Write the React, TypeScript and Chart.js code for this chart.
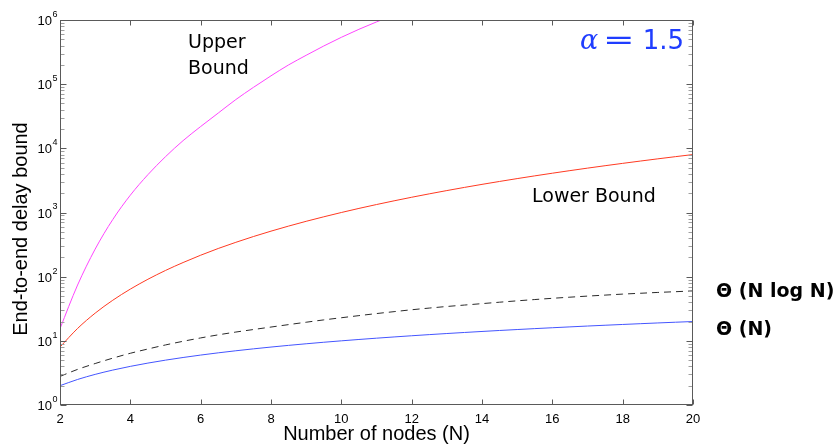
import React, { useEffect, useRef } from 'react';
import { Chart, registerables } from 'chart.js';

Chart.register(...registerables);

// ---- data ----
const nodes = [2, 2.5, 3, 3.5, 4, 4.5, 5, 5.5, 6, 6.5, 7, 7.5, 8, 8.5, 9, 9.5, 10, 10.5, 11, 11.5, 12, 12.5, 13, 13.5, 14, 14.5, 15, 15.5, 16, 16.5, 17, 17.5, 18, 18.5, 19, 19.5, 20];
const thetaN = [2, 2.5, 3, 3.5, 4, 4.5, 5, 5.5, 6, 6.5, 7, 7.5, 8, 8.5, 9, 9.5, 10, 10.5, 11, 11.5, 12, 12.5, 13, 13.5, 14, 14.5, 15, 15.5, 16, 16.5, 17, 17.5, 18, 18.5, 19, 19.5, 20];
const thetaNlogN = [2.79, 3.59, 4.43, 5.37, 6.4, 7.46, 8.63, 9.84, 11.1, 12.4, 13.7, 15.0, 16.4, 17.9, 19.5, 21.2, 22.9, 24.7, 26.6, 28.5, 30.5, 32.4, 34.3, 36.1, 38.0, 40.0, 42.0, 44.0, 46.0, 47.9, 49.8, 51.6, 53.5, 55.1, 56.8, 58.3, 60.0];
const lowerBound = [8, 15.6, 27, 42.9, 64, 91.1, 125, 166, 216, 275, 343, 422, 512, 614, 729, 857, 1000, 1158, 1331, 1521, 1728, 1953, 2197, 2460, 2744, 3048, 3375, 3724, 4096, 4492, 4913, 5359, 5832, 6331, 6859, 7415, 8000];
const upperNodes = [2, 2.5, 3, 3.5, 4, 4.5, 5, 5.5, 6, 6.5, 7, 7.5, 8, 8.5, 9, 9.5, 10, 10.5, 11, 11.5, 12];
const upperBound = [15.5, 74.1, 269, 776, 1862, 3890, 7413, 13183, 21878, 35481, 57544, 89125, 134896, 199526, 281838, 393550, 537032, 716143, 933254, 1202264, 1513561];
const xTickValues = [2, 4, 6, 8, 10, 12, 14, 16, 18, 20];
const yDecades = [0, 1, 2, 3, 4, 5, 6];

const xTitle = 'Number of nodes (N)';
const yTitle = 'End-to-end delay bound';
const upperLabel = ['Upper', 'Bound'];
const lowerLabel = 'Lower Bound';
const nlognLabel = 'Θ (N log N)';
const nLabel = 'Θ (N)';

const pts = (xs: number[], ys: number[]) => xs.map((x, i) => ({ x, y: ys[i] }));

const framePlugin = {
  id: 'frame',
  afterDatasetsDraw(chart: any) {
    const { ctx, chartArea, scales } = chart;
    const { left, right, top, bottom } = chartArea;
    const x = scales.x;
    const y = scales.y;
    const L = Math.round(left) + 0.5;
    const R = Math.round(right) - 0.5;
    const T = Math.round(top) + 0.5;
    const B = Math.round(bottom) - 0.5;
    const line = (x1: number, y1: number, x2: number, y2: number) => {
      ctx.beginPath();
      ctx.moveTo(x1, y1);
      ctx.lineTo(x2, y2);
      ctx.stroke();
    };
    ctx.save();
    ctx.lineWidth = 1;
    // minor y ticks
    ctx.strokeStyle = '#a0a0a0';
    for (const k of yDecades.slice(0, -1)) {
      for (let m = 2; m <= 9; m++) {
        const py = Math.round(y.getPixelForValue(m * Math.pow(10, k))) + 0.5;
        line(L, py, L + 4, py);
        line(R - 4, py, R, py);
      }
    }
    // major y ticks
    ctx.strokeStyle = '#5a5a5a';
    for (const k of yDecades) {
      const py = Math.round(y.getPixelForValue(Math.pow(10, k))) + 0.5;
      line(L, py, L + 6, py);
      line(R - 6, py, R, py);
    }
    // x ticks
    for (const v of xTickValues) {
      const px = Math.round(x.getPixelForValue(v)) + 0.5;
      line(px, B, px, B - 5);
      line(px, T, px, T + 5);
    }
    // box
    ctx.strokeStyle = '#5a5a5a';
    ctx.strokeRect(L, T, R - L, B - T);

    // y tick labels 10^k
    ctx.fillStyle = '#000';
    for (const k of yDecades) {
      const py = y.getPixelForValue(Math.pow(10, k));
      ctx.font = '13px "Liberation Sans"';
      ctx.textAlign = 'right';
      ctx.textBaseline = 'middle';
      ctx.fillText('10', left - 8, py + 1.5);
      ctx.font = '9px "Liberation Sans"';
      ctx.textAlign = 'left';
      ctx.fillText(String(k), left - 7.5, py - 5.5);
    }

    // axis titles
    ctx.font = '20px "Liberation Sans"';
    ctx.textAlign = 'center';
    ctx.textBaseline = 'alphabetic';
    ctx.fillText(xTitle, (left + right) / 2, 440);
    ctx.save();
    ctx.translate(27, 229);
    ctx.rotate(-Math.PI / 2);
    ctx.fillText(yTitle, 0, 0);
    ctx.restore();

    // annotations
    ctx.textAlign = 'left';
    ctx.font = '19px "DejaVu Sans"';
    ctx.fillText(upperLabel[0], 188, 48);
    ctx.fillText(upperLabel[1], 188, 74);
    ctx.fillText(lowerLabel, 532, 202);
    ctx.font = 'bold 19px "DejaVu Sans"';
    ctx.fillText(nlognLabel, 716, 297);
    ctx.fillText(nLabel, 716, 335);

    // alpha = 1.5
    ctx.fillStyle = '#1f3dff';
    ctx.font = 'italic 27px "DejaVu Serif"';
    ctx.fillText('α', 580, 49);
    ctx.save();
    ctx.translate(603, 49);
    ctx.scale(1.45, 1);
    ctx.font = '26px "DejaVu Sans"';
    ctx.fillText('=', 0, 0);
    ctx.restore();
    ctx.font = '26px "DejaVu Sans"';
    ctx.textAlign = 'right';
    ctx.fillText('1.5', 684, 49);
    ctx.restore();
  },
};

export default function App() {
  const ref = useRef<HTMLCanvasElement>(null);
  useEffect(() => {
    if (!ref.current) return;
    const chart = new Chart(ref.current, {
      type: 'line',
      data: {
        datasets: [
          {
            label: 'Upper Bound',
            data: pts(upperNodes, upperBound),
            borderColor: '#ff44ff',
            borderWidth: 1,
            pointRadius: 0,
            cubicInterpolationMode: 'monotone',
          },
          {
            label: 'Lower Bound',
            data: pts(nodes, lowerBound),
            borderColor: '#ff3a22',
            borderWidth: 1,
            pointRadius: 0,
            cubicInterpolationMode: 'monotone',
          },
          {
            label: 'Θ(N log N)',
            data: pts(nodes, thetaNlogN),
            borderColor: '#2a2a2a',
            borderWidth: 1,
            borderDash: [7, 5],
            pointRadius: 0,
            cubicInterpolationMode: 'monotone',
          },
          {
            label: 'Θ(N)',
            data: pts(nodes, thetaN),
            borderColor: '#4455ff',
            borderWidth: 1,
            pointRadius: 0,
            cubicInterpolationMode: 'monotone',
          },
        ],
      },
      options: {
        animation: false,
        responsive: false,
        devicePixelRatio: 1,
        layout: { padding: { top: 20, right: 145, left: 0, bottom: 0 } },
        plugins: {
          legend: { display: false },
          tooltip: { enabled: false },
          title: { display: false },
        },
        scales: {
          x: {
            type: 'linear',
            min: 2,
            max: 20,
            grid: { display: false, drawTicks: false },
            border: { display: false },
            ticks: {
              stepSize: 2,
              padding: 7,
              color: '#000',
              maxRotation: 0,
              autoSkip: false,
              font: { family: 'Liberation Sans', size: 13 },
            },
            afterFit: (s: any) => {
              s.height = 42;
            },
          },
          y: {
            type: 'logarithmic',
            min: 1,
            max: 1e6,
            grid: { display: false, drawTicks: false },
            border: { display: false },
            ticks: { display: false },
            afterFit: (s: any) => {
              s.width = 60;
            },
          },
        },
      },
      plugins: [framePlugin],
    } as any);
    return () => chart.destroy();
  }, []);
  return (
    <div style={{ position: 'fixed', left: 0, top: 0, width: 838, height: 447, background: '#fff' }}>
      <canvas ref={ref} width={838} height={447} style={{ display: 'block' }} />
    </div>
  );
}
